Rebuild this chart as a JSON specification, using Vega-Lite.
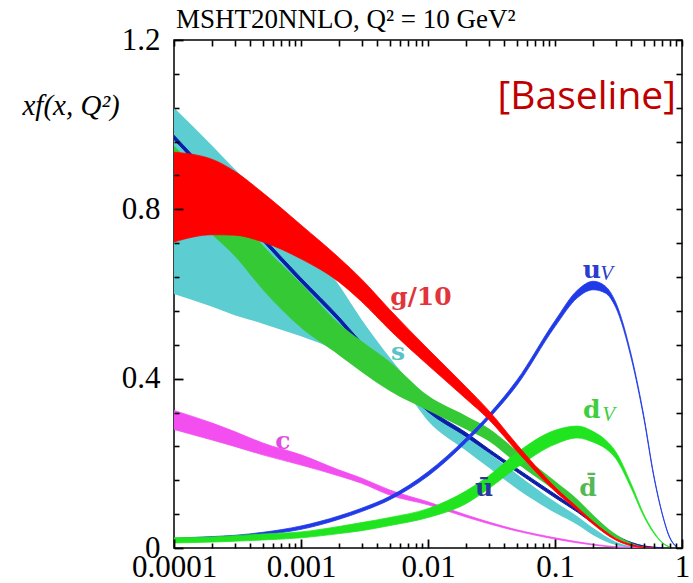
{
  "$schema": "https://vega.github.io/schema/vega-lite/v6.json",
  "width": 508,
  "height": 508,
  "autosize": "none",
  "padding": {"left": 174, "top": 40, "right": 11, "bottom": 35},
  "background": "white",
  "title": {"text": "MSHT20NNLO, Q² = 10 GeV²", "anchor": "start", "frame": "group", "font": "Liberation Serif", "fontSize": 27, "fontWeight": "normal", "color": "black", "offset": -10, "dx": 2},
  "config": {
    "view": {"stroke": "black", "strokeWidth": 1.5}
  },
  "resolve": {"axis": {"x": "independent", "y": "independent"}},
  "datasets": {
    "bands": [
      {"s": "s", "x": 0.0001, "lo": 0.60, "hi": 1.04},
      {"s": "s", "x": 0.0002, "lo": 0.57, "hi": 0.95},
      {"s": "s", "x": 0.0003, "lo": 0.55, "hi": 0.895},
      {"s": "s", "x": 0.0005, "lo": 0.53, "hi": 0.83},
      {"s": "s", "x": 0.001, "lo": 0.50, "hi": 0.74},
      {"s": "s", "x": 0.002, "lo": 0.465, "hi": 0.62},
      {"s": "s", "x": 0.003, "lo": 0.44, "hi": 0.54},
      {"s": "s", "x": 0.005, "lo": 0.40, "hi": 0.45},
      {"s": "s", "x": 0.007, "lo": 0.36, "hi": 0.395},
      {"s": "s", "x": 0.01, "lo": 0.30, "hi": 0.34},
      {"s": "s", "x": 0.02, "lo": 0.23, "hi": 0.265},
      {"s": "s", "x": 0.03, "lo": 0.19, "hi": 0.225},
      {"s": "s", "x": 0.05, "lo": 0.14, "hi": 0.175},
      {"s": "s", "x": 0.1, "lo": 0.083, "hi": 0.109},
      {"s": "s", "x": 0.15, "lo": 0.055, "hi": 0.075},
      {"s": "s", "x": 0.2, "lo": 0.03, "hi": 0.047},
      {"s": "s", "x": 0.3, "lo": 0.007, "hi": 0.015},
      {"s": "s", "x": 0.4, "lo": 0.001, "hi": 0.004},
      {"s": "s", "x": 0.5, "lo": 0.0, "hi": 0.001},

      {"s": "ub", "x": 0.0001, "lo": 0.965, "hi": 0.975},
      {"s": "ub", "x": 0.0002, "lo": 0.865, "hi": 0.875},
      {"s": "ub", "x": 0.0003, "lo": 0.80, "hi": 0.81},
      {"s": "ub", "x": 0.0005, "lo": 0.725, "hi": 0.735},
      {"s": "ub", "x": 0.001, "lo": 0.628, "hi": 0.638},
      {"s": "ub", "x": 0.002, "lo": 0.535, "hi": 0.545},
      {"s": "ub", "x": 0.003, "lo": 0.475, "hi": 0.485},
      {"s": "ub", "x": 0.005, "lo": 0.405, "hi": 0.415},
      {"s": "ub", "x": 0.007, "lo": 0.365, "hi": 0.375},
      {"s": "ub", "x": 0.01, "lo": 0.322, "hi": 0.331},
      {"s": "ub", "x": 0.02, "lo": 0.263, "hi": 0.272},
      {"s": "ub", "x": 0.03, "lo": 0.226, "hi": 0.234},
      {"s": "ub", "x": 0.05, "lo": 0.18, "hi": 0.188},
      {"s": "ub", "x": 0.1, "lo": 0.119, "hi": 0.127},
      {"s": "ub", "x": 0.15, "lo": 0.085, "hi": 0.091},
      {"s": "ub", "x": 0.2, "lo": 0.058, "hi": 0.064},
      {"s": "ub", "x": 0.3, "lo": 0.026, "hi": 0.030},
      {"s": "ub", "x": 0.4, "lo": 0.011, "hi": 0.013},
      {"s": "ub", "x": 0.5, "lo": 0.004, "hi": 0.005},
      {"s": "ub", "x": 0.6, "lo": 0.001, "hi": 0.002},
      {"s": "ub", "x": 0.7, "lo": 0.0, "hi": 0.0005},

      {"s": "db", "x": 0.0001, "lo": 0.83, "hi": 0.95},
      {"s": "db", "x": 0.0002, "lo": 0.74, "hi": 0.855},
      {"s": "db", "x": 0.0003, "lo": 0.69, "hi": 0.795},
      {"s": "db", "x": 0.0005, "lo": 0.61, "hi": 0.715},
      {"s": "db", "x": 0.001, "lo": 0.52, "hi": 0.625},
      {"s": "db", "x": 0.002, "lo": 0.455, "hi": 0.53},
      {"s": "db", "x": 0.003, "lo": 0.416, "hi": 0.489},
      {"s": "db", "x": 0.005, "lo": 0.371, "hi": 0.44},
      {"s": "db", "x": 0.01, "lo": 0.325, "hi": 0.36},
      {"s": "db", "x": 0.02, "lo": 0.28, "hi": 0.312},
      {"s": "db", "x": 0.03, "lo": 0.253, "hi": 0.283},
      {"s": "db", "x": 0.05, "lo": 0.20, "hi": 0.23},
      {"s": "db", "x": 0.1, "lo": 0.135, "hi": 0.158},
      {"s": "db", "x": 0.15, "lo": 0.095, "hi": 0.115},
      {"s": "db", "x": 0.2, "lo": 0.061, "hi": 0.078},
      {"s": "db", "x": 0.3, "lo": 0.024, "hi": 0.033},
      {"s": "db", "x": 0.4, "lo": 0.007, "hi": 0.012},
      {"s": "db", "x": 0.5, "lo": 0.001, "hi": 0.003},
      {"s": "db", "x": 0.6, "lo": 0.0, "hi": 0.0005},

      {"s": "c", "x": 0.0001, "lo": 0.28, "hi": 0.325},
      {"s": "c", "x": 0.0002, "lo": 0.255, "hi": 0.295},
      {"s": "c", "x": 0.0003, "lo": 0.24, "hi": 0.275},
      {"s": "c", "x": 0.0005, "lo": 0.22, "hi": 0.248},
      {"s": "c", "x": 0.001, "lo": 0.196, "hi": 0.22},
      {"s": "c", "x": 0.002, "lo": 0.17, "hi": 0.184},
      {"s": "c", "x": 0.003, "lo": 0.153, "hi": 0.165},
      {"s": "c", "x": 0.005, "lo": 0.125, "hi": 0.137},
      {"s": "c", "x": 0.01, "lo": 0.102, "hi": 0.109},
      {"s": "c", "x": 0.02, "lo": 0.073, "hi": 0.078},
      {"s": "c", "x": 0.05, "lo": 0.040, "hi": 0.043},
      {"s": "c", "x": 0.1, "lo": 0.021, "hi": 0.024},
      {"s": "c", "x": 0.2, "lo": 0.007, "hi": 0.009},
      {"s": "c", "x": 0.3, "lo": 0.002, "hi": 0.003},
      {"s": "c", "x": 0.5, "lo": 0.0, "hi": 0.0003},

      {"s": "uV", "x": 0.0001, "lo": 0.017, "hi": 0.023},
      {"s": "uV", "x": 0.0002, "lo": 0.021, "hi": 0.027},
      {"s": "uV", "x": 0.0003, "lo": 0.024, "hi": 0.030},
      {"s": "uV", "x": 0.0005, "lo": 0.031, "hi": 0.037},
      {"s": "uV", "x": 0.001, "lo": 0.044, "hi": 0.052},
      {"s": "uV", "x": 0.002, "lo": 0.068, "hi": 0.076},
      {"s": "uV", "x": 0.003, "lo": 0.086, "hi": 0.094},
      {"s": "uV", "x": 0.005, "lo": 0.114, "hi": 0.122},
      {"s": "uV", "x": 0.01, "lo": 0.17, "hi": 0.18},
      {"s": "uV", "x": 0.02, "lo": 0.25, "hi": 0.26},
      {"s": "uV", "x": 0.03, "lo": 0.305, "hi": 0.315},
      {"s": "uV", "x": 0.05, "lo": 0.384, "hi": 0.396},
      {"s": "uV", "x": 0.1, "lo": 0.523, "hi": 0.537},
      {"s": "uV", "x": 0.15, "lo": 0.591, "hi": 0.609},
      {"s": "uV", "x": 0.2, "lo": 0.61, "hi": 0.63},
      {"s": "uV", "x": 0.25, "lo": 0.602, "hi": 0.618},
      {"s": "uV", "x": 0.3, "lo": 0.569, "hi": 0.581},
      {"s": "uV", "x": 0.4, "lo": 0.446, "hi": 0.454},
      {"s": "uV", "x": 0.5, "lo": 0.307, "hi": 0.313},
      {"s": "uV", "x": 0.6, "lo": 0.168, "hi": 0.172},
      {"s": "uV", "x": 0.7, "lo": 0.079, "hi": 0.081},
      {"s": "uV", "x": 0.8, "lo": 0.024, "hi": 0.026},
      {"s": "uV", "x": 0.9, "lo": 0.003, "hi": 0.0035},

      {"s": "dV", "x": 0.0001, "lo": 0.012, "hi": 0.024},
      {"s": "dV", "x": 0.0002, "lo": 0.014, "hi": 0.026},
      {"s": "dV", "x": 0.0003, "lo": 0.016, "hi": 0.029},
      {"s": "dV", "x": 0.0005, "lo": 0.019, "hi": 0.033},
      {"s": "dV", "x": 0.001, "lo": 0.024, "hi": 0.038},
      {"s": "dV", "x": 0.002, "lo": 0.034, "hi": 0.051},
      {"s": "dV", "x": 0.003, "lo": 0.041, "hi": 0.06},
      {"s": "dV", "x": 0.005, "lo": 0.053, "hi": 0.072},
      {"s": "dV", "x": 0.01, "lo": 0.072, "hi": 0.093},
      {"s": "dV", "x": 0.02, "lo": 0.105, "hi": 0.135},
      {"s": "dV", "x": 0.03, "lo": 0.14, "hi": 0.17},
      {"s": "dV", "x": 0.05, "lo": 0.19, "hi": 0.225},
      {"s": "dV", "x": 0.1, "lo": 0.245, "hi": 0.278},
      {"s": "dV", "x": 0.15, "lo": 0.26, "hi": 0.288},
      {"s": "dV", "x": 0.2, "lo": 0.25, "hi": 0.275},
      {"s": "dV", "x": 0.25, "lo": 0.235, "hi": 0.255},
      {"s": "dV", "x": 0.3, "lo": 0.212, "hi": 0.228},
      {"s": "dV", "x": 0.4, "lo": 0.14, "hi": 0.15},
      {"s": "dV", "x": 0.5, "lo": 0.075, "hi": 0.08},
      {"s": "dV", "x": 0.6, "lo": 0.035, "hi": 0.038},
      {"s": "dV", "x": 0.7, "lo": 0.012, "hi": 0.013},
      {"s": "dV", "x": 0.8, "lo": 0.002, "hi": 0.0025},

      {"s": "g", "x": 0.0001, "lo": 0.723, "hi": 0.935},
      {"s": "g", "x": 0.0002, "lo": 0.74, "hi": 0.918},
      {"s": "g", "x": 0.0003, "lo": 0.739, "hi": 0.89},
      {"s": "g", "x": 0.0005, "lo": 0.723, "hi": 0.839},
      {"s": "g", "x": 0.001, "lo": 0.683, "hi": 0.763},
      {"s": "g", "x": 0.002, "lo": 0.628, "hi": 0.685},
      {"s": "g", "x": 0.003, "lo": 0.582, "hi": 0.635},
      {"s": "g", "x": 0.005, "lo": 0.515, "hi": 0.563},
      {"s": "g", "x": 0.01, "lo": 0.432, "hi": 0.47},
      {"s": "g", "x": 0.02, "lo": 0.352, "hi": 0.38},
      {"s": "g", "x": 0.03, "lo": 0.304, "hi": 0.325},
      {"s": "g", "x": 0.05, "lo": 0.229, "hi": 0.245},
      {"s": "g", "x": 0.1, "lo": 0.134, "hi": 0.144},
      {"s": "g", "x": 0.15, "lo": 0.089, "hi": 0.096},
      {"s": "g", "x": 0.2, "lo": 0.056, "hi": 0.062},
      {"s": "g", "x": 0.3, "lo": 0.019, "hi": 0.023},
      {"s": "g", "x": 0.4, "lo": 0.005, "hi": 0.008},
      {"s": "g", "x": 0.5, "lo": 0.001, "hi": 0.002},
      {"s": "g", "x": 0.6, "lo": 0.0, "hi": 0.0005}
    ],
    "labels": [
      {"t": "g/10", "x": 0.0088, "y": 0.593, "k": "g"},
      {"t": "s", "x": 0.0058, "y": 0.463, "k": "s"},
      {"t": "c", "x": 0.00072, "y": 0.253, "k": "c"},
      {"t": "u", "x": 0.195, "y": 0.657, "k": "uV"},
      {"t": "d", "x": 0.195, "y": 0.325, "k": "dV"},
      {"t": "ū", "x": 0.0276, "y": 0.142, "k": "ub"},
      {"t": "d̄", "x": 0.182, "y": 0.142, "k": "db"}
    ],
    "subs": [
      {"t": "V", "x": 0.255, "y": 0.648, "k": "uV"},
      {"t": "V", "x": 0.265, "y": 0.314, "k": "dV"}
    ],
    "note": [
      {"t": "[Baseline]", "x": 0.897, "y": 1.065}
    ]
  },
  "layer": [
    {
      "data": {"name": "bands"},
      "transform": [{"filter": "datum.s === 's'"}],
      "mark": {"type": "area", "color": "#5ccdd0", "interpolate": "monotone", "clip": true},
      "encoding": {
        "x": {"field": "x", "type": "quantitative", "scale": {"type": "log", "domain": [0.0001, 1], "nice": false},
          "axis": {"orient": "bottom", "title": null, "values": [0.0001, 0.001, 0.01, 0.1, 1], "grid": false, "domain": false, "zindex": 1,
            "format": "~g", "offset": -9, "tickSize": 9, "tickColor": "black", "tickWidth": 1.8, "ticks": true,
            "labelPadding": 4, "labelFlush": false, "labelFont": "Liberation Serif", "labelFontSize": 31, "labelColor": "black"}},
        "y": {"field": "lo", "type": "quantitative", "scale": {"domain": [0, 1.2], "nice": false, "zero": false},
          "axis": {"orient": "left", "values": [0, 0.4, 0.8, 1.2], "grid": false, "domain": false, "zindex": 1,
            "format": "~g", "offset": -9, "tickSize": 9, "tickColor": "black", "tickWidth": 1.8, "ticks": true,
            "labelPadding": 14, "labelFlush": false, "labelFont": "Liberation Serif", "labelFontSize": 31, "labelColor": "black",
            "title": "xf(x, Q²)", "titleAngle": 0, "titleAlign": "left", "titleBaseline": "middle", "titleX": -161, "titleY": 65,
            "titleFont": "Liberation Serif", "titleFontStyle": "italic", "titleFontWeight": "normal", "titleFontSize": 29, "titleColor": "black"}},
        "y2": {"field": "hi"}
      }
    },
    {
      "data": {"name": "bands"},
      "transform": [{"filter": "datum.s === 'ub'"}],
      "mark": {"type": "area", "color": "#0c1ea8", "interpolate": "monotone", "clip": true, "stroke": "#0c1ea8", "strokeWidth": 1},
      "encoding": {
        "x": {"field": "x", "type": "quantitative", "scale": {"type": "log", "domain": [0.0001, 1], "nice": false},
          "axis": {"orient": "top", "title": null, "labels": false, "grid": false, "domain": false, "zindex": 1, "values": [0.0001,0.0002,0.0003,0.0004,0.0005,0.0006,0.0007,0.0008,0.0009,0.001,0.002,0.003,0.004,0.005,0.006,0.007,0.008,0.009,0.01,0.02,0.03,0.04,0.05,0.06,0.07,0.08,0.09,0.1,0.2,0.3,0.4,0.5,0.6,0.7,0.8,0.9,1],
            "tickSize": -6, "tickColor": "black", "tickWidth": 1.6, "ticks": true}},
        "y": {"field": "lo", "type": "quantitative", "scale": {"domain": [0, 1.2], "nice": false, "zero": false},
          "axis": {"orient": "right", "title": null, "labels": false, "grid": false, "domain": false, "zindex": 1, "values": [0,0.08,0.16,0.24,0.32,0.4,0.48,0.56,0.64,0.72,0.8,0.88,0.96,1.04,1.12,1.2],
            "tickSize": -6, "tickColor": "black", "tickWidth": 1.6, "ticks": true}},
        "y2": {"field": "hi"}
      }
    },
    {
      "data": {"name": "bands"},
      "transform": [{"filter": "datum.s === 'db'"}],
      "mark": {"type": "area", "color": "#36c936", "interpolate": "monotone", "clip": true},
      "encoding": {
        "x": {"field": "x", "type": "quantitative", "scale": {"type": "log", "domain": [0.0001, 1], "nice": false},
          "axis": {"orient": "bottom", "title": null, "labels": false, "grid": false, "domain": false, "zindex": 1, "values": [0.0002,0.0003,0.0004,0.0005,0.0006,0.0007,0.0008,0.0009,0.002,0.003,0.004,0.005,0.006,0.007,0.008,0.009,0.02,0.03,0.04,0.05,0.06,0.07,0.08,0.09,0.2,0.3,0.4,0.5,0.6,0.7,0.8,0.9],
            "tickSize": -5, "tickColor": "black", "tickWidth": 1.6, "ticks": true}},
        "y": {"field": "lo", "type": "quantitative", "scale": {"domain": [0, 1.2], "nice": false, "zero": false},
          "axis": {"orient": "left", "title": null, "labels": false, "grid": false, "domain": false, "zindex": 1, "values": [0.08,0.16,0.24,0.32,0.48,0.56,0.64,0.72,0.88,0.96,1.04,1.12],
            "tickSize": -5, "tickColor": "black", "tickWidth": 1.6, "ticks": true}},
        "y2": {"field": "hi"}
      }
    },
    {
      "data": {"name": "bands"},
      "transform": [{"filter": "datum.s === 'c'"}],
      "mark": {"type": "area", "color": "#f24ef0", "interpolate": "monotone", "clip": true, "stroke": "#f24ef0", "strokeWidth": 0.8},
      "encoding": {
        "x": {"field": "x", "type": "quantitative", "axis": null},
        "y": {"field": "lo", "type": "quantitative", "axis": null},
        "y2": {"field": "hi"}
      }
    },
    {
      "data": {"name": "bands"},
      "transform": [{"filter": "datum.s === 'uV'"}],
      "mark": {"type": "area", "color": "#1f3ae6", "interpolate": "monotone", "clip": true, "stroke": "#1f3ae6", "strokeWidth": 0.8},
      "encoding": {
        "x": {"field": "x", "type": "quantitative", "axis": null},
        "y": {"field": "lo", "type": "quantitative", "axis": null},
        "y2": {"field": "hi"}
      }
    },
    {
      "data": {"name": "bands"},
      "transform": [{"filter": "datum.s === 'dV'"}],
      "mark": {"type": "area", "color": "#1fe41f", "interpolate": "monotone", "clip": true, "stroke": "#1fe41f", "strokeWidth": 0.8},
      "encoding": {
        "x": {"field": "x", "type": "quantitative", "axis": null},
        "y": {"field": "lo", "type": "quantitative", "axis": null},
        "y2": {"field": "hi"}
      }
    },
    {
      "data": {"name": "bands"},
      "transform": [{"filter": "datum.s === 'g'"}],
      "mark": {"type": "area", "color": "#ff0000", "interpolate": "monotone", "clip": true, "stroke": "#ff0000", "strokeWidth": 0.8},
      "encoding": {
        "x": {"field": "x", "type": "quantitative", "axis": null},
        "y": {"field": "lo", "type": "quantitative", "axis": null},
        "y2": {"field": "hi"}
      }
    },
    {
      "data": {"name": "labels"},
      "mark": {"type": "text", "font": "DejaVu Serif", "fontWeight": "bold", "fontSize": 25, "align": "center", "baseline": "middle"},
      "encoding": {
        "x": {"field": "x", "type": "quantitative", "axis": null},
        "y": {"field": "y", "type": "quantitative", "axis": null},
        "text": {"field": "t"},
        "color": {"field": "k", "type": "nominal", "legend": null,
          "scale": {"domain": ["g", "s", "c", "uV", "dV", "ub", "db"], "range": ["#e2343a", "#5bc3c6", "#e04ee0", "#2c3ccc", "#3ecf3e", "#27379c", "#54b954"]}}
      }
    },
    {
      "data": {"name": "subs"},
      "mark": {"type": "text", "font": "Liberation Serif", "fontStyle": "italic", "fontSize": 21, "align": "center", "baseline": "middle"},
      "encoding": {
        "x": {"field": "x", "type": "quantitative", "axis": null},
        "y": {"field": "y", "type": "quantitative", "axis": null},
        "text": {"field": "t"},
        "color": {"field": "k", "type": "nominal", "legend": null}
      }
    },
    {
      "data": {"name": "note"},
      "mark": {"type": "text", "font": "Open Sans", "fontSize": 39, "align": "right", "baseline": "middle", "color": "#c00000"},
      "encoding": {
        "x": {"field": "x", "type": "quantitative", "axis": null},
        "y": {"field": "y", "type": "quantitative", "axis": null},
        "text": {"field": "t"}
      }
    }
  ]
}
